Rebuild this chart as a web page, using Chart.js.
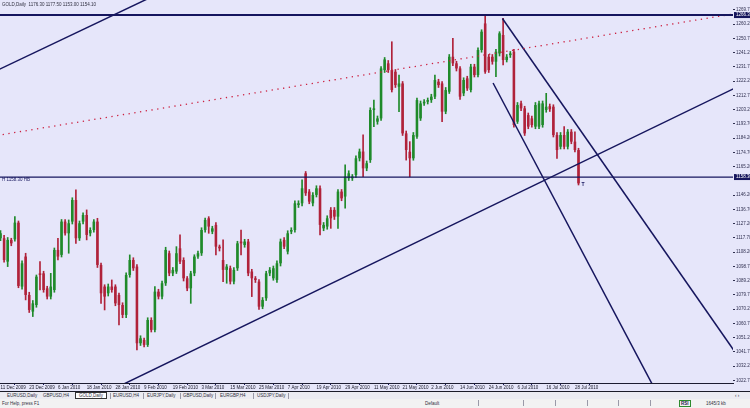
<!DOCTYPE html>
<html lang="en">
<head>
<meta charset="UTF-8">
<title>GOLD,Daily</title>
<script src="https://cdn.jsdelivr.net/npm/chart.js"></script>
<style>
  html, body { margin: 0; padding: 0; background: #e6e6fa; width: 750px; height: 408px; overflow: hidden; font-family: "Liberation Sans", Arial, sans-serif; }
  #wrap { position: relative; width: 750px; height: 408px; }
  canvas { display: block; }
  #tabs { position: absolute; left: 0; top: 391px; width: 750px; height: 7px; border-top: 1px solid #1c1c28; background: #ececf2; }
  #status { position: absolute; left: 0; top: 399px; width: 750px; height: 9px; background: #f2f2f2; }
  .t { position: absolute; top: 1px; font-size: 4.5px; line-height: 5px; color: #303040; white-space: nowrap; }
  .tab.active { background: #fff; border: 1px solid #333; top: 0; padding: 0 3px; }
  .sep { position: absolute; top: 1px; width: 1px; height: 6px; background: #9a9aa8; }
  .st { position: absolute; top: 2px; font-size: 4.5px; line-height: 5px; color: #303040; white-space: nowrap; }
  .rsi { border: 1px solid #2e8b2e; padding: 0 1px; font-weight: bold; color: #202050; top: 1px; }
</style>
</head>
<body>
<div id="wrap">
  <canvas id="chart" width="750" height="391"></canvas>
  <div id="tabs">
    <span class="t" style="left:7px">EURUSD,Daily</span>
    <span class="t" style="left:43px">GBPUSD,H4</span>
    <span class="t tab active" style="left:75px">GOLD,Daily</span>
    <span class="t" style="left:113px">EURUSD,H4</span>
    <span class="t" style="left:147px">EURJPY,Daily</span>
    <span class="t" style="left:183px">GBPUSD,Daily</span>
    <span class="t" style="left:220px">EURGBP,H4</span>
    <span class="t" style="left:257px">USDJPY,Daily</span>
    <span class="sep" style="left:110px"></span>
    <span class="sep" style="left:143px"></span>
    <span class="sep" style="left:180px"></span>
    <span class="sep" style="left:215px"></span>
    <span class="sep" style="left:253px"></span>
    <span class="sep" style="left:288px"></span>
    <span class="t" style="left:735px">&#8249; &#8250;</span>
  </div>
  <div id="status">
    <span class="st" style="left:2px">For Help, press F1</span>
    <span class="st" style="left:425px">Default</span>
    <span class="sep" style="left:478px"></span>
    <span class="sep" style="left:523px"></span>
    <span class="sep" style="left:555px"></span>
    <span class="sep" style="left:587px"></span>
    <span class="sep" style="left:618px"></span>
    <span class="sep" style="left:650px"></span>
    <span class="st rsi" style="left:679px">RSI</span>
    <span class="st" style="left:706px">1645/3 kb</span>
  </div>
</div>
<script>
// date labels, one every 8 bars
const barDates = ['11 Dec 2009', '23 Dec 2009', '6 Jan 2010', '18 Jan 2010', '28 Jan 2010', '9 Feb 2010',
  '19 Feb 2010', '3 Mar 2010', '15 Mar 2010', '25 Mar 2010', '7 Apr 2010', '19 Apr 2010', '29 Apr 2010',
  '11 May 2010', '21 May 2010', '2 Jun 2010', '14 Jun 2010', '24 Jun 2010', '6 Jul 2010', '16 Jul 2010', '28 Jul 2010'];
const labelEvery = 8;

const openP = [1117.5, 1117.5, 1101.9, 1116.4, 1116.8, 1127.9, 1085.3, 1105.3, 1079.7, 1068.6,
  1073.0, 1094.1, 1094.1, 1084.1, 1078.6, 1083.0, 1109.7, 1106.4, 1128.6, 1120.8,
  1128.6, 1143.0, 1117.5, 1128.6, 1133.0, 1120.8, 1123.0, 1128.6, 1099.7, 1085.3,
  1080.8, 1085.3, 1085.3, 1079.7, 1073.0, 1066.4, 1093.0, 1103.0, 1098.6, 1047.5,
  1049.7, 1046.4, 1063.0, 1056.4, 1081.9, 1078.6, 1087.5, 1107.5, 1094.1, 1095.3,
  1110.8, 1103.0, 1090.8, 1084.1, 1094.1, 1105.3, 1107.5, 1123.0, 1130.8, 1121.9,
  1126.4, 1111.9, 1103.0, 1096.4, 1097.5, 1088.6, 1097.5, 1115.3, 1113.0, 1115.3,
  1095.3, 1090.8, 1088.6, 1071.9, 1077.5, 1094.1, 1090.8, 1089.7, 1100.8, 1116.4,
  1108.6, 1121.9, 1123.0, 1139.7, 1140.8, 1160.8, 1148.6, 1140.8, 1146.4, 1150.8,
  1124.1, 1125.3, 1136.4, 1136.4, 1131.9, 1148.6, 1145.3, 1157.5, 1157.5, 1159.7,
  1170.8, 1175.3, 1164.1, 1169.6, 1203.0, 1195.2, 1197.4, 1229.6, 1234.1, 1229.6,
  1228.5, 1218.5, 1220.7, 1187.4, 1175.2, 1170.8, 1185.2, 1197.4, 1207.4, 1208.5,
  1209.6, 1211.9, 1221.9, 1220.7, 1201.9, 1215.2, 1238.5, 1234.1, 1230.7, 1214.1,
  1224.1, 1216.3, 1231.9, 1226.3, 1243.0, 1260.7, 1238.5, 1238.5, 1235.2, 1240.7,
  1253.0, 1236.3, 1239.6, 1241.9, 1195.2, 1207.4, 1204.1, 1199.6, 1197.4, 1191.9,
  1191.9, 1193.0, 1203.0, 1205.5, 1205.2, 1186.3, 1178.5, 1186.3, 1178.5, 1188.5,
  1181.9, 1176.3];
const highP = [1122.6, 1119.5, 1118.0, 1117.5, 1131.9, 1129.0, 1102.5, 1107.5, 1081.5, 1076.0,
  1093.0, 1101.9, 1095.5, 1085.5, 1094.1, 1111.0, 1117.5, 1130.0, 1130.0, 1129.7,
  1144.5, 1149.7, 1129.0, 1134.5, 1136.4, 1124.5, 1130.0, 1130.8, 1101.0, 1086.5,
  1087.0, 1089.7, 1086.5, 1081.0, 1074.5, 1094.5, 1106.4, 1104.5, 1100.0, 1052.5,
  1051.0, 1064.5, 1064.5, 1085.3, 1083.5, 1089.0, 1111.5, 1109.0, 1098.0, 1111.9,
  1119.7, 1104.5, 1092.0, 1095.5, 1106.5, 1109.0, 1124.5, 1131.0, 1131.9, 1125.5,
  1128.0, 1113.0, 1116.4, 1100.0, 1099.0, 1098.0, 1115.5, 1123.0, 1116.8, 1116.8,
  1096.8, 1092.0, 1090.0, 1078.0, 1095.5, 1098.0, 1099.0, 1102.5, 1117.0, 1118.0,
  1122.5, 1124.5, 1142.5, 1142.5, 1156.4, 1162.0, 1150.0, 1148.0, 1152.5, 1152.5,
  1128.0, 1132.5, 1138.0, 1138.0, 1150.0, 1150.0, 1166.4, 1162.5, 1160.0, 1172.5,
  1177.0, 1186.4, 1169.0, 1204.5, 1209.6, 1199.0, 1232.0, 1238.0, 1236.0, 1248.5,
  1230.0, 1226.3, 1222.0, 1189.0, 1181.9, 1188.0, 1211.0, 1209.0, 1210.0, 1211.0,
  1213.5, 1226.3, 1223.5, 1222.0, 1218.0, 1240.0, 1250.7, 1235.5, 1232.0, 1224.5,
  1225.5, 1233.5, 1233.5, 1244.5, 1256.5, 1266.3, 1240.0, 1240.0, 1243.5, 1255.2,
  1264.1, 1240.0, 1242.0, 1243.5, 1208.0, 1209.0, 1205.5, 1201.0, 1199.0, 1208.0,
  1209.0, 1209.0, 1214.1, 1207.0, 1206.5, 1188.0, 1188.0, 1191.9, 1190.0, 1190.0,
  1188.5, 1177.5];
const lowP = [1115.9, 1101.5, 1098.6, 1112.5, 1115.5, 1084.5, 1083.5, 1076.4, 1068.0, 1065.3,
  1071.5, 1083.0, 1081.5, 1077.0, 1077.0, 1081.5, 1103.0, 1105.0, 1119.5, 1107.5,
  1127.0, 1114.1, 1116.0, 1127.0, 1116.4, 1119.0, 1121.5, 1098.0, 1074.1, 1069.7,
  1079.0, 1081.5, 1072.5, 1059.7, 1064.5, 1064.5, 1091.5, 1096.0, 1043.0, 1046.0,
  1045.0, 1045.3, 1055.0, 1055.0, 1077.0, 1077.0, 1086.0, 1092.5, 1092.5, 1094.0,
  1100.5, 1089.0, 1082.5, 1074.1, 1092.5, 1104.0, 1106.0, 1121.5, 1120.8, 1120.5,
  1106.4, 1109.0, 1088.6, 1087.5, 1087.0, 1087.0, 1096.0, 1106.4, 1111.5, 1092.5,
  1078.6, 1088.0, 1070.0, 1070.5, 1076.0, 1092.5, 1089.5, 1088.0, 1099.0, 1110.5,
  1107.0, 1120.5, 1121.5, 1138.0, 1139.0, 1146.0, 1140.5, 1139.0, 1145.0, 1119.7,
  1122.5, 1123.5, 1124.1, 1130.0, 1124.1, 1142.5, 1137.5, 1156.0, 1156.0, 1158.0,
  1169.0, 1158.6, 1162.5, 1168.0, 1191.9, 1193.5, 1196.0, 1228.0, 1228.0, 1215.0,
  1218.0, 1201.9, 1186.0, 1169.6, 1158.5, 1169.5, 1184.0, 1196.0, 1206.0, 1207.0,
  1208.0, 1210.5, 1218.0, 1195.2, 1200.5, 1214.0, 1232.5, 1229.0, 1210.0, 1212.5,
  1216.0, 1215.0, 1225.0, 1225.0, 1241.5, 1227.4, 1228.0, 1233.5, 1225.2, 1239.0,
  1233.0, 1235.0, 1238.0, 1191.5, 1194.0, 1202.5, 1186.0, 1190.5, 1191.5, 1190.5,
  1190.5, 1191.5, 1201.5, 1202.0, 1185.0, 1170.8, 1177.0, 1177.0, 1177.0, 1180.5,
  1175.0, 1153.0];
const closeP = [1120.8, 1103.0, 1116.4, 1114.1, 1127.9, 1085.7, 1100.8, 1079.7, 1069.7, 1074.1,
  1091.9, 1093.0, 1083.0, 1078.6, 1085.3, 1109.7, 1105.3, 1128.6, 1120.8, 1127.5,
  1143.0, 1117.5, 1127.5, 1133.0, 1119.7, 1123.0, 1128.6, 1099.7, 1080.8, 1078.6,
  1085.3, 1083.0, 1074.1, 1073.0, 1066.4, 1093.0, 1103.0, 1097.5, 1047.5, 1050.8,
  1046.4, 1063.0, 1056.4, 1081.9, 1078.6, 1087.5, 1109.7, 1094.1, 1096.4, 1107.5,
  1101.9, 1090.8, 1084.1, 1094.1, 1105.3, 1107.5, 1123.0, 1129.7, 1125.3, 1124.1,
  1111.9, 1110.8, 1096.4, 1098.6, 1088.6, 1096.4, 1114.1, 1114.1, 1115.3, 1094.1,
  1090.8, 1089.7, 1071.9, 1076.4, 1094.1, 1096.4, 1097.5, 1100.8, 1115.3, 1111.9,
  1120.8, 1123.0, 1140.8, 1140.8, 1150.8, 1147.5, 1141.9, 1146.4, 1150.8, 1126.4,
  1126.4, 1130.8, 1130.8, 1131.9, 1148.6, 1144.1, 1158.6, 1160.8, 1158.6, 1170.8,
  1175.3, 1164.1, 1167.5, 1203.0, 1204.1, 1197.4, 1230.7, 1236.7, 1229.6, 1216.3,
  1219.6, 1220.7, 1187.4, 1176.3, 1170.8, 1186.3, 1209.6, 1207.4, 1208.5, 1209.6,
  1211.9, 1223.0, 1219.6, 1201.9, 1216.3, 1238.5, 1234.1, 1230.7, 1211.9, 1223.0,
  1217.4, 1231.9, 1226.3, 1243.0, 1255.2, 1228.5, 1229.6, 1235.2, 1241.9, 1254.1,
  1236.3, 1238.5, 1240.7, 1193.0, 1206.3, 1204.1, 1187.4, 1191.9, 1193.0, 1206.3,
  1207.4, 1207.4, 1205.2, 1203.5, 1186.3, 1176.3, 1186.3, 1178.5, 1188.5, 1181.9,
  1176.3, 1154.1];

// price axis labels
const yTickValues = [1269.70, 1260.20, 1250.70, 1241.20, 1231.70, 1222.20, 1212.70, 1203.20, 1193.70,
  1184.20, 1174.70, 1165.20, 1155.70, 1146.20, 1136.70, 1127.20, 1117.70, 1108.20, 1098.70, 1089.20,
  1079.70, 1070.20, 1060.70, 1051.20, 1041.70, 1032.20, 1022.70];

// horizontal levels and trend lines (bar index, price)
const resistancePrice = 1266.3;
const supportPrice = 1158.3;
const channelTop = [{ x: -2, y: 1228.2 }, { x: 45, y: 1281.7 }];
const channelBottom = [{ x: 30, y: 1015.3 }, { x: 206, y: 1219.3 }];
const midDotted = [{ x: -1, y: 1186.0 }, { x: 205, y: 1267.4 }];
const fallTop = [{ x: 139.8, y: 1264.0 }, { x: 206, y: 1036.8 }];
const fallBottom = [{ x: 137.2, y: 1221.0 }, { x: 184, y: 1009.0 }];

const BULL = '#1f8a2a';
const BEAR = '#b0223a';
const NAVY = '#16165e';
const candleColors = openP.map((o, i) => closeP[i] >= o ? BULL : BEAR);
const last = openP.length - 1;

Chart.defaults.font.family = '"Liberation Sans", Arial, sans-serif';

function hLine(price) {
    return [{ x: -2, y: price }, { x: 206, y: price }];
}

function lineSet(data, color, width, dash) {
    return {
        type: 'line',
        data: data,
        borderColor: color,
        borderWidth: width,
        borderDash: dash || [],
        pointRadius: 0,
        fill: false,
        tension: 0,
        order: -1,
    };
}

const decor = {
    id: 'decor',
    beforeDraw(chart) {
        const ctx = chart.ctx;
        ctx.save();
        ctx.fillStyle = '#e6e6fa';
        ctx.fillRect(0, 0, chart.width, chart.height);
        ctx.restore();
    },
    afterDraw(chart) {
        const ctx = chart.ctx;
        const x = chart.scales.x, y = chart.scales.y;
        ctx.save();
        ctx.font = '4.5px "Liberation Sans", Arial, sans-serif';
        ctx.textBaseline = 'middle';
        ctx.fillStyle = '#303040';
        ctx.fillText('GOLD,Daily  ' + openP[last].toFixed(2) + ' ' + highP[last].toFixed(2) + ' ' +
            lowP[last].toFixed(2) + ' ' + closeP[last].toFixed(2), 2, 5);

        // label of the support line
        ctx.fillStyle = NAVY;
        ctx.fillText('H ' + supportPrice.toFixed(2) + ' HB', chart.chartArea.left + 2, y.getPixelForValue(supportPrice) + 3);

        // marker under the last bar
        ctx.font = 'bold 5px "Liberation Sans", Arial, sans-serif';
        ctx.fillText('T', x.getPixelForValue(last + 0.8), y.getPixelForValue(lowP[last]));

        // highlighted prices on the axis
        ctx.font = '4.5px "Liberation Sans", Arial, sans-serif';
        [resistancePrice, supportPrice].forEach(p => {
            const py = y.getPixelForValue(p);
            ctx.fillStyle = NAVY;
            ctx.fillRect(chart.chartArea.right + 1, py - 3, chart.width - chart.chartArea.right - 1, 6);
            ctx.fillStyle = '#ffffff';
            ctx.fillText(p.toFixed(2), chart.chartArea.right + 3, py);
        });
        ctx.restore();
    }
};

new Chart(document.getElementById('chart'), {
    type: 'bar',
    data: {
        datasets: [
            {
                data: openP.map((o, i) => ({ x: i, y: [o, closeP[i]] })),
                backgroundColor: candleColors,
                barPercentage: 0.72,
                categoryPercentage: 1,
                grouped: false,
                borderWidth: 0,
            },
            {
                data: lowP.map((l, i) => ({ x: i, y: [l, highP[i]] })),
                backgroundColor: candleColors,
                barThickness: 1,
                grouped: false,
                borderWidth: 0,
            },
            lineSet(hLine(resistancePrice), NAVY, 2),
            lineSet(hLine(resistancePrice), '#a03070', 1.5, [3, 3]),
            lineSet(hLine(supportPrice), NAVY, 1.2),
            lineSet(midDotted, '#cc2040', 1.3, [1.3, 4.5]),
            lineSet(channelTop, NAVY, 1.5),
            lineSet(channelBottom, NAVY, 1.5),
            lineSet(fallTop, NAVY, 1.5),
            lineSet(fallBottom, NAVY, 1.5),
        ],
    },
    options: {
        responsive: false,
        animation: false,
        events: [],
        layout: { padding: 0 },
        plugins: { legend: { display: false }, tooltip: { enabled: false } },
        scales: {
            x: {
                type: 'linear',
                min: -0.14,
                max: 204.03,
                offset: false,
                grid: { drawOnChartArea: false, tickLength: 2, color: NAVY },
                border: { display: true, color: '#1c1c30', width: 1 },
                ticks: {
                    autoSkip: false,
                    maxRotation: 0,
                    align: 'start',
                    padding: 0,
                    color: '#202030',
                    font: { size: 4.5 },
                    callback: (v, i) => barDates[i],
                },
                afterBuildTicks(scale) {
                    scale.ticks = barDates.map((d, k) => ({ value: k * labelEvery }));
                },
                afterFit(scale) {
                    scale.height = 8;
                    scale.paddingLeft = 0;
                    scale.paddingRight = 0;
                },
            },
            y: {
                position: 'right',
                min: 1021.0,
                max: 1276.33,
                grid: { drawOnChartArea: false, tickLength: 2, color: '#303050' },
                border: { display: false },
                ticks: {
                    autoSkip: false,
                    padding: 1,
                    color: '#303050',
                    font: { size: 4.5 },
                    callback: v => v.toFixed(2),
                },
                afterBuildTicks(scale) {
                    scale.ticks = yTickValues
                        .filter(v => Math.abs(v - supportPrice) > 3 && Math.abs(v - resistancePrice) > 3)
                        .map(v => ({ value: v }));
                },
                afterFit(scale) {
                    scale.width = 17;
                    scale.paddingTop = 0;
                    scale.paddingBottom = 0;
                },
            },
        },
    },
    plugins: [decor],
});
</script>
</body>
</html>
